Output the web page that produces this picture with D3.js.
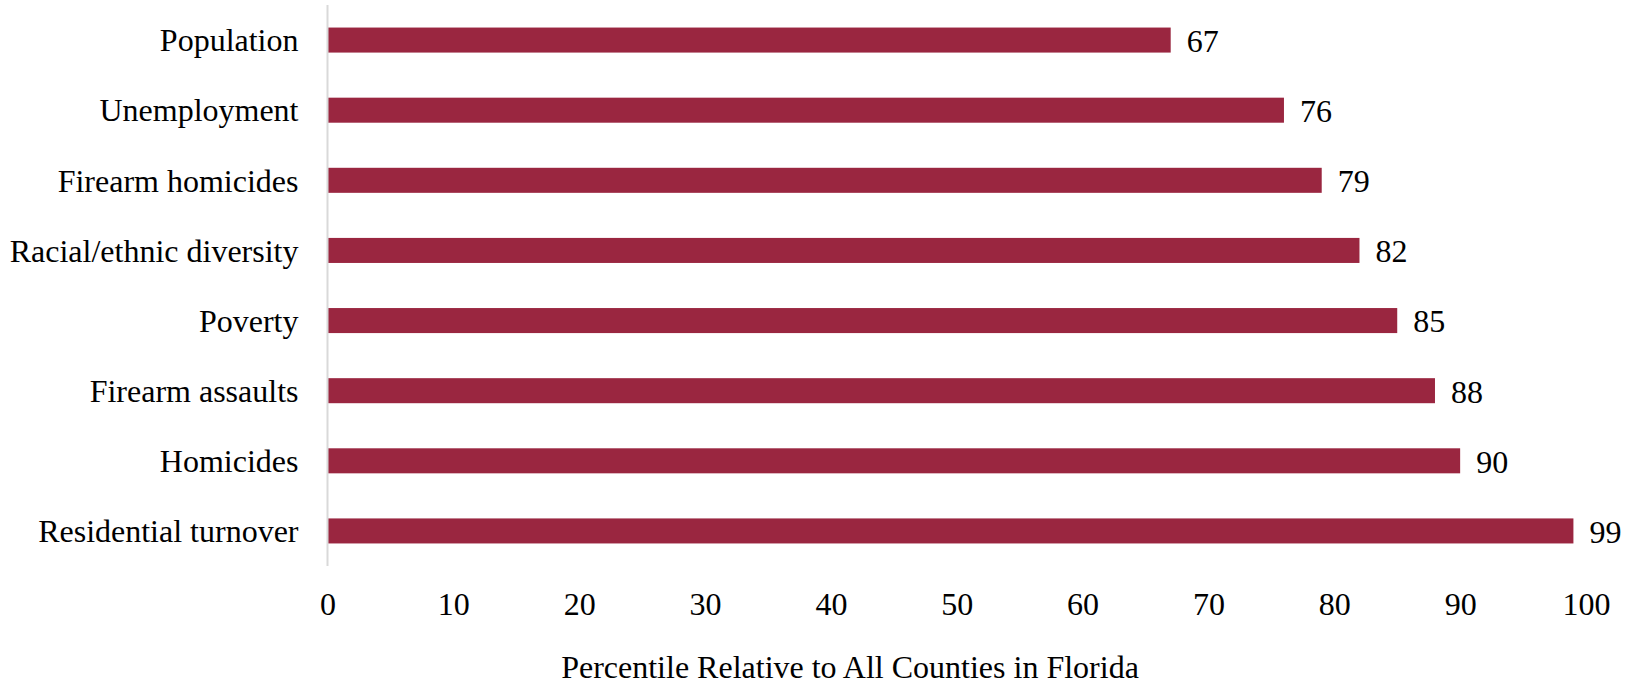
<!DOCTYPE html>
<html>
<head>
<meta charset="utf-8">
<script src="https://cdn.jsdelivr.net/npm/d3@7"></script>
<style>
  html, body { margin: 0; padding: 0; background: #fff; }
  svg text { font-family: "Liberation Serif", "Times New Roman", serif; fill: #000; }
</style>
</head>
<body>
<svg id="chart" width="1636" height="686"></svg>
<script>
const categories = ["Population", "Unemployment", "Firearm homicides", "Racial/ethnic diversity", "Poverty", "Firearm assaults", "Homicides", "Residential turnover"];
const values = [67, 76, 79, 82, 85, 88, 90, 99];
const xTicks = [0, 10, 20, 30, 40, 50, 60, 70, 80, 90, 100];
const axisTitle = "Percentile Relative to All Counties in Florida";

const svg = d3.select("#chart");
const x = d3.scaleLinear().domain([0, 100]).range([327.5, 1586]);
const y = d3.scaleBand().domain(categories).range([5, 566]).paddingInner(0.643).paddingOuter(0.3215);

const data = categories.map((c, i) => ({ c, v: values[i] }));

// bars
svg.append("g").selectAll("rect").data(data).join("rect")
  .attr("x", x(0))
  .attr("y", d => y(d.c))
  .attr("width", d => x(d.v) - x(0))
  .attr("height", y.bandwidth())
  .attr("fill", "#9a2640");

// vertical axis line
svg.append("line")
  .attr("x1", x(0)).attr("x2", x(0))
  .attr("y1", y.range()[0]).attr("y2", y.range()[1])
  .attr("stroke", "#d9d9d9").attr("stroke-width", 2);

// category labels
svg.append("g").selectAll("text").data(data).join("text")
  .attr("x", x(0) - 29)
  .attr("y", d => y(d.c) + y.bandwidth() / 2)
  .attr("dy", "0.35em")
  .attr("text-anchor", "end")
  .attr("font-size", 32)
  .text(d => d.c);

// value labels
svg.append("g").selectAll("text").data(data).join("text")
  .attr("x", d => x(d.v) + 16)
  .attr("y", d => y(d.c) + y.bandwidth() / 2)
  .attr("dy", "0.37em")
  .attr("font-size", 32)
  .text(d => d.v);

// x axis ticks (no line)
const xAxis = d3.axisBottom(x).tickValues(xTicks).tickSize(0).tickPadding(0).tickFormat(d3.format("d"));
const gx = svg.append("g").attr("transform", "translate(0,592)").call(xAxis);
gx.select(".domain").remove();
gx.selectAll("text")
  .attr("font-size", 32)
  .attr("dy", "0.71em")
  .attr("y", 0)
  .style("font-family", '"Liberation Serif", "Times New Roman", serif')
  .attr("fill", "#000");

// axis title
svg.append("text")
  .attr("x", 850)
  .attr("y", 678)
  .attr("text-anchor", "middle")
  .attr("font-size", 32)
  .text(axisTitle);
</script>
</body>
</html>
